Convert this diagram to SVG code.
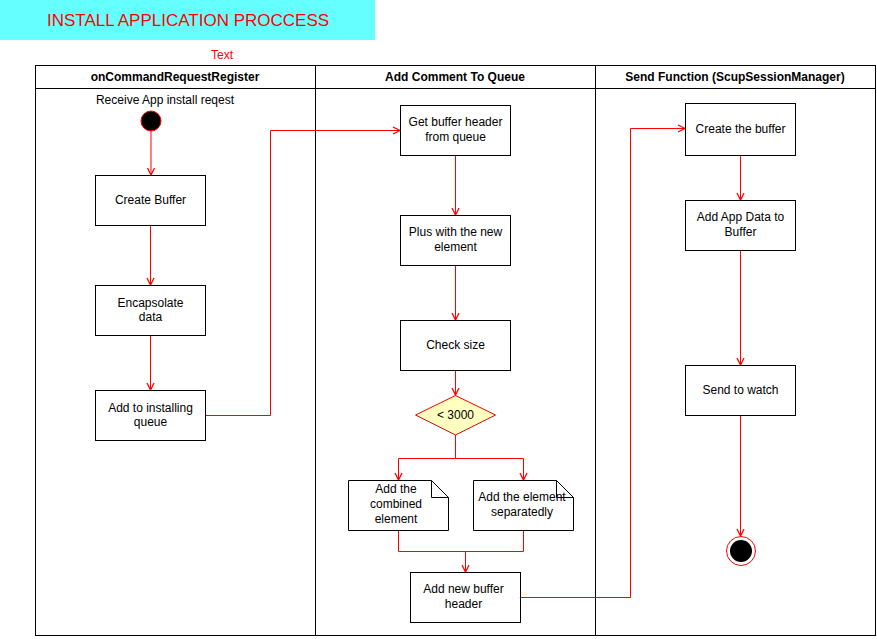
<svg xmlns="http://www.w3.org/2000/svg" width="877" height="639" viewBox="0 0 877 639">
  <style>
    text { font-family: "Liberation Sans", Arial, Helvetica, sans-serif; font-size: 12px; fill: #000; }
    .hdr { font-weight: bold; text-anchor: middle; }
    .lbl { text-anchor: middle; }
    .box { fill: #fff; stroke: #000; stroke-width: 1; }
    .lane { fill: none; stroke: #000; stroke-width: 1; }
    .edge { fill: none; stroke: #ff0000; stroke-width: 1; }
  </style>
  <defs>
    <marker id="arrow" markerWidth="10" markerHeight="10" refX="8" refY="5" orient="auto" markerUnits="userSpaceOnUse">
      <path d="M1,1.5 L8,5 L1,8.5" fill="none" stroke="#ff0000" stroke-width="1.3"/>
    </marker>
  </defs>

  <rect width="877" height="639" fill="#fff"/>

  <!-- title banner -->
  <g id="title">
    <rect x="0" y="0" width="375" height="40" fill="#66ffff"/>
    <text x="188" y="26" text-anchor="middle" style="font-size:17px;fill:#ff0000">INSTALL APPLICATION PROCCESS</text>
  </g>
  <g id="caption">
    <text x="222" y="59" text-anchor="middle" style="fill:#ff0000">Text</text>
  </g>

  <!-- swimlanes -->
  <g id="pool">
    <rect class="lane" x="35.5" y="65.5" width="840" height="570"/>
    <line class="lane" x1="35" y1="88.5" x2="876" y2="88.5"/>
    <line class="lane" x1="315.5" y1="65" x2="315.5" y2="636"/>
    <line class="lane" x1="595.5" y1="65" x2="595.5" y2="636"/>
    <text class="hdr" x="175" y="81">onCommandRequestRegister</text>
    <text class="hdr" x="455" y="81">Add Comment To Queue</text>
    <text class="hdr" x="735" y="81">Send Function (ScupSessionManager)</text>
  </g>

  <!-- connectors -->
  <g id="connectors">
    <line class="edge" x1="151" y1="131" x2="151" y2="175" marker-end="url(#arrow)"/>
    <line class="edge" x1="150.5" y1="225" x2="150.5" y2="285" marker-end="url(#arrow)"/>
    <line class="edge" x1="150.5" y1="335" x2="150.5" y2="390" marker-end="url(#arrow)"/>
    <polyline class="edge" points="205,415.5 270.5,415.5 270.5,130.5 400,130.5" marker-end="url(#arrow)"/>
    <line class="edge" x1="455.5" y1="155" x2="455.5" y2="215" marker-end="url(#arrow)"/>
    <line class="edge" x1="455.5" y1="265" x2="455.5" y2="320" marker-end="url(#arrow)"/>
    <line class="edge" x1="455.5" y1="370" x2="455.5" y2="395" marker-end="url(#arrow)"/>
    <polyline class="edge" points="455.5,435 455.5,458.5 398.5,458.5 398.5,480" marker-end="url(#arrow)"/>
    <polyline class="edge" points="455.5,458.5 523.5,458.5 523.5,480" marker-end="url(#arrow)"/>
    <polyline class="edge" points="398.5,530 398.5,551.5 523.5,551.5 523.5,530"/>
    <line class="edge" x1="465.5" y1="551" x2="465.5" y2="572" marker-end="url(#arrow)"/>
    <polyline class="edge" points="520,597.5 630.5,597.5 630.5,128.5 685,128.5" marker-end="url(#arrow)"/>
    <line class="edge" x1="740.5" y1="155" x2="740.5" y2="200" marker-end="url(#arrow)"/>
    <line class="edge" x1="740.5" y1="250" x2="740.5" y2="365" marker-end="url(#arrow)"/>
    <line class="edge" x1="740.5" y1="415" x2="740.5" y2="536" marker-end="url(#arrow)"/>
  </g>

  <!-- lane 1 -->
  <g id="start">
    <text x="165" y="104" class="lbl">Receive App install reqest</text>
    <circle cx="151" cy="121" r="10" fill="#000" stroke="#ff0000" stroke-width="1"/>
  </g>
  <g id="create-buffer">
    <rect class="box" x="95.5" y="175.5" width="110" height="50"/>
    <text class="lbl" x="150.5" y="204">Create Buffer</text>
  </g>
  <g id="encapsolate">
    <rect class="box" x="95.5" y="285.5" width="110" height="50"/>
    <text class="lbl" x="150.5" y="307">Encapsolate</text>
    <text class="lbl" x="150.5" y="321">data</text>
  </g>
  <g id="add-installing">
    <rect class="box" x="95.5" y="390.5" width="110" height="50"/>
    <text class="lbl" x="150.5" y="412">Add to installing</text>
    <text class="lbl" x="150.5" y="426">queue</text>
  </g>

  <!-- lane 2 -->
  <g id="get-header">
    <rect class="box" x="400.5" y="105.5" width="110" height="50"/>
    <text class="lbl" x="455.5" y="126">Get buffer header</text>
    <text class="lbl" x="455.5" y="141">from queue</text>
  </g>
  <g id="plus-element">
    <rect class="box" x="400.5" y="215.5" width="110" height="50"/>
    <text class="lbl" x="455.5" y="236">Plus with the new</text>
    <text class="lbl" x="455.5" y="251">element</text>
  </g>
  <g id="check-size">
    <rect class="box" x="400.5" y="320.5" width="110" height="50"/>
    <text class="lbl" x="455.5" y="349">Check size</text>
  </g>
  <g id="decision">
    <polygon points="455.5,395.5 495.5,415 455.5,435 415.5,415" fill="#ffffc0" stroke="#ff0000" stroke-width="1"/>
    <text class="lbl" x="455.5" y="419">&lt; 3000</text>
  </g>
  <g id="note-combined">
    <path d="M348.5,480.5 H431.5 L448.5,497.5 V530.5 H348.5 Z" class="box"/>
    <path d="M431.5,480.5 V497.5 H448.5" fill="none" stroke="#000"/>
    <text class="lbl" x="396" y="493">Add the</text>
    <text class="lbl" x="396" y="508">combined</text>
    <text class="lbl" x="396" y="523">element</text>
  </g>
  <g id="note-separate">
    <path d="M473.5,480.5 H556.5 L573.5,497.5 V530.5 H473.5 Z" class="box"/>
    <path d="M556.5,480.5 V497.5 H573.5" fill="none" stroke="#000"/>
    <text class="lbl" x="522" y="501">Add the element</text>
    <text class="lbl" x="522" y="516">separatedly</text>
  </g>
  <g id="new-header">
    <rect class="box" x="410.5" y="572.5" width="110" height="50"/>
    <text class="lbl" x="463.5" y="593">Add new buffer</text>
    <text class="lbl" x="463.5" y="608">header</text>
  </g>

  <!-- lane 3 -->
  <g id="create-the-buffer">
    <rect class="box" x="685.5" y="103.5" width="110" height="52"/>
    <text class="lbl" x="740.5" y="133">Create the buffer</text>
  </g>
  <g id="add-app-data">
    <rect class="box" x="685.5" y="200.5" width="110" height="50"/>
    <text class="lbl" x="740.5" y="221">Add App Data to</text>
    <text class="lbl" x="740.5" y="236">Buffer</text>
  </g>
  <g id="send-watch">
    <rect class="box" x="685.5" y="365.5" width="110" height="50"/>
    <text class="lbl" x="740.5" y="394">Send to watch</text>
  </g>
  <g id="end">
    <circle cx="741" cy="551" r="14.5" fill="#fff" stroke="#ff0000" stroke-width="1"/>
    <circle cx="741" cy="551" r="11" fill="#000"/>
  </g>
</svg>
